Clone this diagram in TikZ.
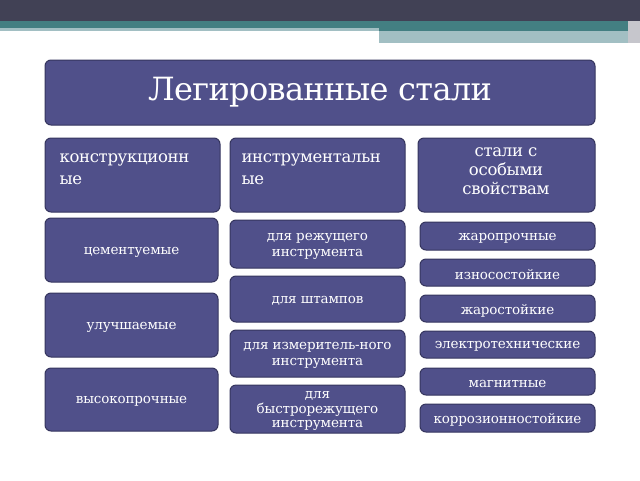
\documentclass[tikz,border=0pt]{standalone}
\usepackage{fontspec}
\setmainfont{DejaVu Serif}
\definecolor{bx}{HTML}{50508A}
\definecolor{bd}{HTML}{35355E}
\definecolor{dark}{HTML}{414155}
\definecolor{teal}{HTML}{437F82}
\definecolor{lteal}{HTML}{A2BFC3}
\tikzset{box/.style={draw=bd,line width=1pt,fill=bx,rounded corners=6pt},
 lbl/.style={text=white,align=center,yshift=-2pt,font=\fontsize{13.5}{16}\selectfont\addfontfeature{LetterSpace=-1}}}
\begin{document}
\begin{tikzpicture}[x=1pt,y=-1pt]
\useasboundingbox (0,0) rectangle (640,480);
\fill[dark] (0,0) rectangle (640,21);
\fill[teal] (0,21) rectangle (628,31);
\fill[lteal] (0,28) rectangle (379,31);
\fill[lteal] (379,31) rectangle (628,43);
\fill[dark!30] (628,21) rectangle (640,43);
\newcommand{\bx}[5]{\node[box,minimum width=#3-#1,minimum height=#4-#2] (#5) at ({(#1+#3)/2},{(#2+#4)/2}) {};}
\bx{45}{60}{595}{125}{t}
\node[text=white,font=\fontsize{32}{34}\selectfont\addfontfeature{LetterSpace=-2}] (tt) at (t) {Легированные стали};
\bx{45}{138}{220}{212}{a}
\bx{230}{138}{405}{212}{b}
\bx{418}{138}{595}{212}{c}
\node[text=white,align=left,anchor=north west,font=\fontsize{16.5}{22}\selectfont\addfontfeature{LetterSpace=-2}] (at) at (56,150) {конструкционн\\ые};
\node[text=white,align=left,anchor=north west,font=\fontsize{16.5}{22}\selectfont\addfontfeature{LetterSpace=-2}] (bt) at (238,150) {инструментальн\\ые};
\node[text=white,align=center,anchor=north,font=\fontsize{16.5}{19}\selectfont\addfontfeature{LetterSpace=-2}] (ct) at (506,144) {стали с\\особыми\\свойствам};
\bx{45}{218}{218}{282}{l1}
\node[lbl] at (l1) {цементуемые};
\bx{45}{293}{218}{357}{l2}
\node[lbl] at (l2) {улучшаемые};
\bx{45}{368}{218}{431}{l3}
\node[lbl] at (l3) {высокопрочные};
\bx{230}{220}{405}{268}{m1}
\node[lbl] at (m1) {для режущего\\инструмента};
\bx{230}{276}{405}{322}{m2}
\node[lbl] at (m2) {для штампов};
\bx{230}{330}{405}{377}{m3}
\node[lbl] at (m3) {для измеритель-ного\\инструмента};
\bx{230}{385}{405}{433}{m4}
\node[lbl,font=\fontsize{13.5}{14.5}\selectfont\addfontfeature{LetterSpace=-1}] at (m4) {для\\быстрорежущего\\инструмента};
\bx{420}{222}{595}{250}{r1}
\node[lbl] at (r1) {жаропрочные};
\bx{420}{259}{595}{286}{r2}
\node[lbl] at (r2) {износостойкие};
\bx{420}{295}{595}{322}{r3}
\node[lbl] at (r3) {жаростойкие};
\bx{420}{331}{595}{358}{r4}
\node[lbl] at (r4) {электротехнические};
\bx{420}{368}{595}{395}{r5}
\node[lbl] at (r5) {магнитные};
\bx{420}{404}{595}{432}{r6}
\node[lbl] at (r6) {коррозионностойкие};
\end{tikzpicture}
\end{document}
